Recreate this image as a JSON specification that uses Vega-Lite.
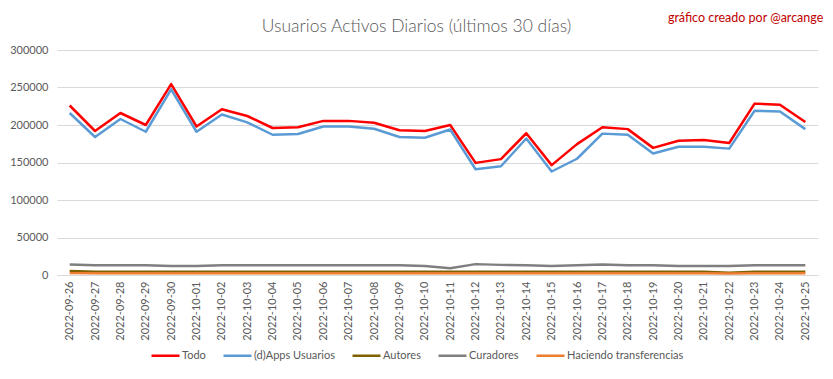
{
  "$schema": "https://vega.github.io/schema/vega-lite/v6.json",
  "width": 761,
  "height": 225,
  "autosize": {"type": "none"},
  "padding": {"left": 57, "top": 50, "right": 15, "bottom": 104},
  "background": "white",
  "title": {
    "text": "Usuarios Activos Diarios (últimos 30 días)",
    "font": "Lato",
    "fontSize": 17.5,
    "fontWeight": 300,
    "color": "#595959",
    "anchor": "middle",
    "frame": "group",
    "dx": -21,
    "offset": -23
  },
  "config": {
    "view": {"stroke": null},
    "font": "Lato",
    "axis": {"labelFont": "Lato", "labelColor": "#595959", "labelFontSize": 11},
    "legend": {"labelFont": "Lato", "labelColor": "#595959", "labelFontSize": 11}
  },
  "datasets": {
    "series": [
      {"date": "2022-09-26", "series": "Todo", "value": 226000},
      {"date": "2022-09-27", "series": "Todo", "value": 192000},
      {"date": "2022-09-28", "series": "Todo", "value": 216000},
      {"date": "2022-09-29", "series": "Todo", "value": 200000},
      {"date": "2022-09-30", "series": "Todo", "value": 254500},
      {"date": "2022-10-01", "series": "Todo", "value": 198000},
      {"date": "2022-10-02", "series": "Todo", "value": 221000},
      {"date": "2022-10-03", "series": "Todo", "value": 212000},
      {"date": "2022-10-04", "series": "Todo", "value": 196000},
      {"date": "2022-10-05", "series": "Todo", "value": 197000},
      {"date": "2022-10-06", "series": "Todo", "value": 205500},
      {"date": "2022-10-07", "series": "Todo", "value": 205500},
      {"date": "2022-10-08", "series": "Todo", "value": 203000},
      {"date": "2022-10-09", "series": "Todo", "value": 193000},
      {"date": "2022-10-10", "series": "Todo", "value": 192000},
      {"date": "2022-10-11", "series": "Todo", "value": 200000},
      {"date": "2022-10-12", "series": "Todo", "value": 149500},
      {"date": "2022-10-13", "series": "Todo", "value": 154500},
      {"date": "2022-10-14", "series": "Todo", "value": 189000},
      {"date": "2022-10-15", "series": "Todo", "value": 146500},
      {"date": "2022-10-16", "series": "Todo", "value": 174500},
      {"date": "2022-10-17", "series": "Todo", "value": 197000},
      {"date": "2022-10-18", "series": "Todo", "value": 194500},
      {"date": "2022-10-19", "series": "Todo", "value": 169500},
      {"date": "2022-10-20", "series": "Todo", "value": 179000},
      {"date": "2022-10-21", "series": "Todo", "value": 180000},
      {"date": "2022-10-22", "series": "Todo", "value": 176000},
      {"date": "2022-10-23", "series": "Todo", "value": 228500},
      {"date": "2022-10-24", "series": "Todo", "value": 227000},
      {"date": "2022-10-25", "series": "Todo", "value": 204000},
      {"date": "2022-09-26", "series": "(d)Apps Usuarios", "value": 216000},
      {"date": "2022-09-27", "series": "(d)Apps Usuarios", "value": 184000},
      {"date": "2022-09-28", "series": "(d)Apps Usuarios", "value": 208000},
      {"date": "2022-09-29", "series": "(d)Apps Usuarios", "value": 191000},
      {"date": "2022-09-30", "series": "(d)Apps Usuarios", "value": 247500},
      {"date": "2022-10-01", "series": "(d)Apps Usuarios", "value": 191000},
      {"date": "2022-10-02", "series": "(d)Apps Usuarios", "value": 214000},
      {"date": "2022-10-03", "series": "(d)Apps Usuarios", "value": 203500},
      {"date": "2022-10-04", "series": "(d)Apps Usuarios", "value": 187000},
      {"date": "2022-10-05", "series": "(d)Apps Usuarios", "value": 188000},
      {"date": "2022-10-06", "series": "(d)Apps Usuarios", "value": 198000},
      {"date": "2022-10-07", "series": "(d)Apps Usuarios", "value": 198000},
      {"date": "2022-10-08", "series": "(d)Apps Usuarios", "value": 195000},
      {"date": "2022-10-09", "series": "(d)Apps Usuarios", "value": 184000},
      {"date": "2022-10-10", "series": "(d)Apps Usuarios", "value": 183000},
      {"date": "2022-10-11", "series": "(d)Apps Usuarios", "value": 194000},
      {"date": "2022-10-12", "series": "(d)Apps Usuarios", "value": 141000},
      {"date": "2022-10-13", "series": "(d)Apps Usuarios", "value": 145000},
      {"date": "2022-10-14", "series": "(d)Apps Usuarios", "value": 182000},
      {"date": "2022-10-15", "series": "(d)Apps Usuarios", "value": 138000},
      {"date": "2022-10-16", "series": "(d)Apps Usuarios", "value": 155000},
      {"date": "2022-10-17", "series": "(d)Apps Usuarios", "value": 188500},
      {"date": "2022-10-18", "series": "(d)Apps Usuarios", "value": 187000},
      {"date": "2022-10-19", "series": "(d)Apps Usuarios", "value": 162000},
      {"date": "2022-10-20", "series": "(d)Apps Usuarios", "value": 171000},
      {"date": "2022-10-21", "series": "(d)Apps Usuarios", "value": 171000},
      {"date": "2022-10-22", "series": "(d)Apps Usuarios", "value": 168500},
      {"date": "2022-10-23", "series": "(d)Apps Usuarios", "value": 219000},
      {"date": "2022-10-24", "series": "(d)Apps Usuarios", "value": 218000},
      {"date": "2022-10-25", "series": "(d)Apps Usuarios", "value": 194500},
      {"date": "2022-09-26", "series": "Autores", "value": 5500},
      {"date": "2022-09-27", "series": "Autores", "value": 4500},
      {"date": "2022-09-28", "series": "Autores", "value": 4500},
      {"date": "2022-09-29", "series": "Autores", "value": 4500},
      {"date": "2022-09-30", "series": "Autores", "value": 4500},
      {"date": "2022-10-01", "series": "Autores", "value": 4300},
      {"date": "2022-10-02", "series": "Autores", "value": 4500},
      {"date": "2022-10-03", "series": "Autores", "value": 4500},
      {"date": "2022-10-04", "series": "Autores", "value": 4500},
      {"date": "2022-10-05", "series": "Autores", "value": 4500},
      {"date": "2022-10-06", "series": "Autores", "value": 4500},
      {"date": "2022-10-07", "series": "Autores", "value": 4500},
      {"date": "2022-10-08", "series": "Autores", "value": 4300},
      {"date": "2022-10-09", "series": "Autores", "value": 4500},
      {"date": "2022-10-10", "series": "Autores", "value": 4500},
      {"date": "2022-10-11", "series": "Autores", "value": 4500},
      {"date": "2022-10-12", "series": "Autores", "value": 4500},
      {"date": "2022-10-13", "series": "Autores", "value": 4500},
      {"date": "2022-10-14", "series": "Autores", "value": 4500},
      {"date": "2022-10-15", "series": "Autores", "value": 4300},
      {"date": "2022-10-16", "series": "Autores", "value": 4500},
      {"date": "2022-10-17", "series": "Autores", "value": 4500},
      {"date": "2022-10-18", "series": "Autores", "value": 4500},
      {"date": "2022-10-19", "series": "Autores", "value": 4500},
      {"date": "2022-10-20", "series": "Autores", "value": 4500},
      {"date": "2022-10-21", "series": "Autores", "value": 4300},
      {"date": "2022-10-22", "series": "Autores", "value": 3000},
      {"date": "2022-10-23", "series": "Autores", "value": 4300},
      {"date": "2022-10-24", "series": "Autores", "value": 4500},
      {"date": "2022-10-25", "series": "Autores", "value": 4500},
      {"date": "2022-09-26", "series": "Curadores", "value": 14000},
      {"date": "2022-09-27", "series": "Curadores", "value": 13000},
      {"date": "2022-09-28", "series": "Curadores", "value": 13000},
      {"date": "2022-09-29", "series": "Curadores", "value": 13000},
      {"date": "2022-09-30", "series": "Curadores", "value": 12000},
      {"date": "2022-10-01", "series": "Curadores", "value": 12000},
      {"date": "2022-10-02", "series": "Curadores", "value": 13000},
      {"date": "2022-10-03", "series": "Curadores", "value": 13000},
      {"date": "2022-10-04", "series": "Curadores", "value": 13000},
      {"date": "2022-10-05", "series": "Curadores", "value": 13000},
      {"date": "2022-10-06", "series": "Curadores", "value": 13000},
      {"date": "2022-10-07", "series": "Curadores", "value": 13000},
      {"date": "2022-10-08", "series": "Curadores", "value": 13000},
      {"date": "2022-10-09", "series": "Curadores", "value": 13000},
      {"date": "2022-10-10", "series": "Curadores", "value": 12000},
      {"date": "2022-10-11", "series": "Curadores", "value": 9000},
      {"date": "2022-10-12", "series": "Curadores", "value": 14500},
      {"date": "2022-10-13", "series": "Curadores", "value": 13500},
      {"date": "2022-10-14", "series": "Curadores", "value": 13000},
      {"date": "2022-10-15", "series": "Curadores", "value": 12000},
      {"date": "2022-10-16", "series": "Curadores", "value": 13000},
      {"date": "2022-10-17", "series": "Curadores", "value": 14000},
      {"date": "2022-10-18", "series": "Curadores", "value": 13000},
      {"date": "2022-10-19", "series": "Curadores", "value": 13000},
      {"date": "2022-10-20", "series": "Curadores", "value": 12000},
      {"date": "2022-10-21", "series": "Curadores", "value": 12000},
      {"date": "2022-10-22", "series": "Curadores", "value": 12000},
      {"date": "2022-10-23", "series": "Curadores", "value": 13000},
      {"date": "2022-10-24", "series": "Curadores", "value": 13000},
      {"date": "2022-10-25", "series": "Curadores", "value": 13000},
      {"date": "2022-09-26", "series": "Haciendo transferencias", "value": 2500},
      {"date": "2022-09-27", "series": "Haciendo transferencias", "value": 2300},
      {"date": "2022-09-28", "series": "Haciendo transferencias", "value": 2300},
      {"date": "2022-09-29", "series": "Haciendo transferencias", "value": 2300},
      {"date": "2022-09-30", "series": "Haciendo transferencias", "value": 2300},
      {"date": "2022-10-01", "series": "Haciendo transferencias", "value": 2200},
      {"date": "2022-10-02", "series": "Haciendo transferencias", "value": 2300},
      {"date": "2022-10-03", "series": "Haciendo transferencias", "value": 2300},
      {"date": "2022-10-04", "series": "Haciendo transferencias", "value": 2300},
      {"date": "2022-10-05", "series": "Haciendo transferencias", "value": 2300},
      {"date": "2022-10-06", "series": "Haciendo transferencias", "value": 2300},
      {"date": "2022-10-07", "series": "Haciendo transferencias", "value": 2300},
      {"date": "2022-10-08", "series": "Haciendo transferencias", "value": 2200},
      {"date": "2022-10-09", "series": "Haciendo transferencias", "value": 2300},
      {"date": "2022-10-10", "series": "Haciendo transferencias", "value": 2300},
      {"date": "2022-10-11", "series": "Haciendo transferencias", "value": 2200},
      {"date": "2022-10-12", "series": "Haciendo transferencias", "value": 2300},
      {"date": "2022-10-13", "series": "Haciendo transferencias", "value": 2300},
      {"date": "2022-10-14", "series": "Haciendo transferencias", "value": 2300},
      {"date": "2022-10-15", "series": "Haciendo transferencias", "value": 2200},
      {"date": "2022-10-16", "series": "Haciendo transferencias", "value": 2300},
      {"date": "2022-10-17", "series": "Haciendo transferencias", "value": 2300},
      {"date": "2022-10-18", "series": "Haciendo transferencias", "value": 2300},
      {"date": "2022-10-19", "series": "Haciendo transferencias", "value": 2300},
      {"date": "2022-10-20", "series": "Haciendo transferencias", "value": 2300},
      {"date": "2022-10-21", "series": "Haciendo transferencias", "value": 2300},
      {"date": "2022-10-22", "series": "Haciendo transferencias", "value": 2000},
      {"date": "2022-10-23", "series": "Haciendo transferencias", "value": 2300},
      {"date": "2022-10-24", "series": "Haciendo transferencias", "value": 2300},
      {"date": "2022-10-25", "series": "Haciendo transferencias", "value": 2300}
    ],
    "note": [{"note": "gráfico creado por @arcange"}]
  },
  "layer": [
    {
      "data": {"name": "series"},
      "mark": {"type": "line", "strokeWidth": 2.5, "strokeJoin": "round"},
      "encoding": {
        "x": {
          "field": "date",
          "type": "ordinal",
          "scale": {"type": "point", "padding": 0.5},
          "axis": {
            "title": null,
            "labelAngle": 270,
            "ticks": false,
            "grid": false,
            "domainColor": "#d9d9d9",
            "labelPadding": 6
          }
        },
        "y": {
          "field": "value",
          "type": "quantitative",
          "scale": {"domain": [0, 300000]},
          "axis": {
            "title": null,
            "values": [0, 50000, 100000, 150000, 200000, 250000, 300000],
            "tickCount": 10,
            "format": "d",
            "labelOverlap": false,
            "domain": false,
            "ticks": false,
            "gridColor": "#d9d9d9",
            "labelPadding": 9
          }
        },
        "color": {
          "field": "series",
          "type": "nominal",
          "scale": {
            "domain": ["Todo", "(d)Apps Usuarios", "Autores", "Curadores", "Haciendo transferencias"],
            "range": ["#FF0000", "#5B9BD5", "#7F6000", "#7F7F7F", "#ED7D31"]
          },
          "legend": {
            "title": null,
            "orient": "none",
            "direction": "horizontal",
            "legendX": 93,
            "legendY": 290,
            "symbolType": "stroke",
            "symbolSize": 784,
            "symbolStrokeWidth": 2.5,
            "labelOffset": 1,
            "columnPadding": 12
          }
        }
      }
    },
    {
      "data": {"name": "note"},
      "mark": {"type": "text", "align": "right", "baseline": "alphabetic", "color": "#C00000", "fontSize": 12.5, "font": "Lato", "dx": 18},
      "encoding": {
        "x": {"datum": "2022-10-25", "type": "ordinal"},
        "y": {
          "datum": 337000,
          "type": "quantitative",
          "axis": {
            "title": null,
            "values": [0, 50000, 100000, 150000, 200000, 250000, 300000],
            "tickCount": 10,
            "format": "d",
            "labelOverlap": false,
            "domain": false,
            "ticks": false,
            "gridColor": "#d9d9d9",
            "labelPadding": 9
          }
        },
        "text": {"field": "note"}
      }
    }
  ]
}
